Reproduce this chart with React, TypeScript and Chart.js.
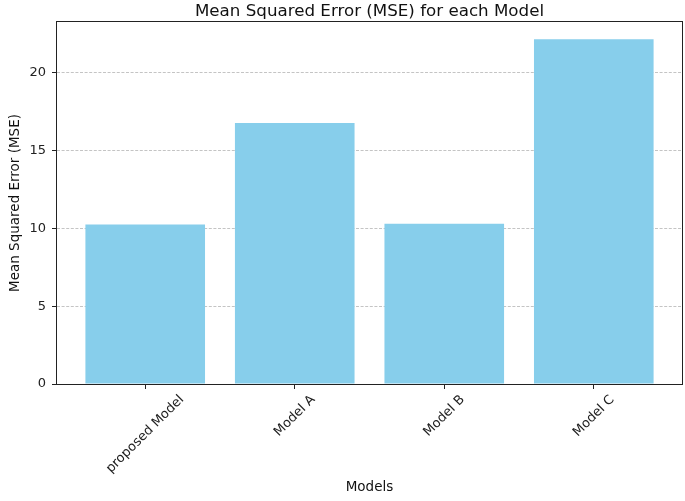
import React, { useEffect, useRef } from 'react';
import { Chart, registerables } from 'chart.js';

Chart.register(...registerables);

const categories = ['proposed Model', 'Model A', 'Model B', 'Model C'];
const mseValues = [10.24, 16.76, 10.3, 22.14];
const yTicks = [0, 5, 10, 15, 20];
const chartTitle = 'Mean Squared Error (MSE) for each Model';
const xTitle = 'Models';
const yTitle = 'Mean Squared Error (MSE)';

const FONT = '"DejaVu Sans", sans-serif';
const TICK_SIZE = 13;

export default function App() {
  const ref = useRef<HTMLCanvasElement>(null);

  useEffect(() => {
    document.body.style.margin = '0';
    const canvas = ref.current!;

    const mplExtras = {
      id: 'mplExtras',
      afterDraw(chart: any) {
        const { ctx, chartArea: a, scales } = chart;
        ctx.save();
        // frame (spines)
        ctx.strokeStyle = '#222';
        ctx.lineWidth = 1;
        ctx.setLineDash([]);
        const l = Math.round(a.left) - 0.5;
        const t = Math.round(a.top) - 0.5;
        const r = Math.round(a.right) + 0.5;
        const b = Math.round(a.bottom) + 0.5;
        ctx.strokeRect(l, t, r - l, b - t);
        // title
        ctx.fillStyle = '#111';
        ctx.font = `16.7px ${FONT}`;
        ctx.textAlign = 'center';
        ctx.textBaseline = 'middle';
        ctx.fillText(chartTitle, (a.left + a.right) / 2, 12);
        // rotated x tick labels, centred on the tick (matplotlib style)
        ctx.font = `${TICK_SIZE}px ${FONT}`;
        ctx.fillStyle = '#222';
        const xs = scales.x;
        categories.forEach((c, i) => {
          const m = ctx.measureText(c);
          const h = TICK_SIZE;
          const ext = (m.width + h) * Math.SQRT1_2;
          const cx = xs.getPixelForValue(i);
          const cy = a.bottom + 9 + ext / 2;
          ctx.save();
          ctx.translate(cx, cy);
          ctx.rotate(-Math.PI / 4);
          ctx.fillText(c, 0, 0);
          ctx.restore();
        });
        ctx.restore();
      },
    };

    const chart = new Chart(canvas, {
      type: 'bar',
      data: {
        datasets: [
          {
            data: categories.map((_, i) => ({ x: i, y: mseValues[i] })),
            backgroundColor: '#87CEEB',
            borderWidth: 0,
            barPercentage: 0.8,
            categoryPercentage: 1,
          },
        ],
      },
      options: {
        responsive: false,
        animation: false,
        devicePixelRatio: 1,
        layout: { padding: { top: 22, right: 3, left: 0, bottom: 0 } },
        plugins: {
          legend: { display: false },
          tooltip: { enabled: false },
          title: { display: false },
        },
        scales: {
          x: {
            type: 'linear',
            offset: false,
            min: -0.59,
            max: 3.59,
            afterBuildTicks: (s: any) => {
              s.ticks = categories.map((_, i) => ({ value: i }));
            },
            afterFit: (s: any) => {
              s.height = 117;
            },
            ticks: { display: false },
            grid: {
              display: true,
              offset: false,
              drawOnChartArea: false,
              drawTicks: true,
              tickLength: 5,
              tickColor: '#222',
              color: '#222',
            },
            border: { display: false },
            title: {
              display: true,
              text: xTitle,
              color: '#111',
              font: { family: FONT, size: 13.5 },
              padding: { top: 0, bottom: 5 },
            },
          },
          y: {
            type: 'linear',
            min: 0,
            max: 23.25,
            z: 1,
            afterBuildTicks: (s: any) => {
              s.ticks = yTicks.map((v) => ({ value: v }));
            },
            afterFit: (s: any) => {
              s.width = 57;
            },
            ticks: {
              color: '#222',
              font: { family: FONT, size: TICK_SIZE },
              padding: 6,
              callback: (v: any) => String(v),
            },
            grid: {
              display: true,
              drawOnChartArea: true,
              drawTicks: true,
              tickLength: 5,
              tickColor: '#222',
              tickWidth: 1,
              lineWidth: 1,
              color: (c: any) =>
                c.tick && c.tick.value === 0 ? 'rgba(0,0,0,0)' : 'rgba(176,176,176,0.75)',
            },
            border: { display: false, dash: [3, 1.6] },
            title: {
              display: true,
              text: yTitle,
              color: '#111',
              font: { family: FONT, size: 13.5 },
              padding: { top: 7.5, bottom: 0 },
            },
          },
        },
      },
      plugins: [mplExtras],
    });

    return () => chart.destroy();
  }, []);

  return (
    <div style={{ width: 685, height: 501 }}>
      <canvas ref={ref} width={685} height={501} />
    </div>
  );
}
